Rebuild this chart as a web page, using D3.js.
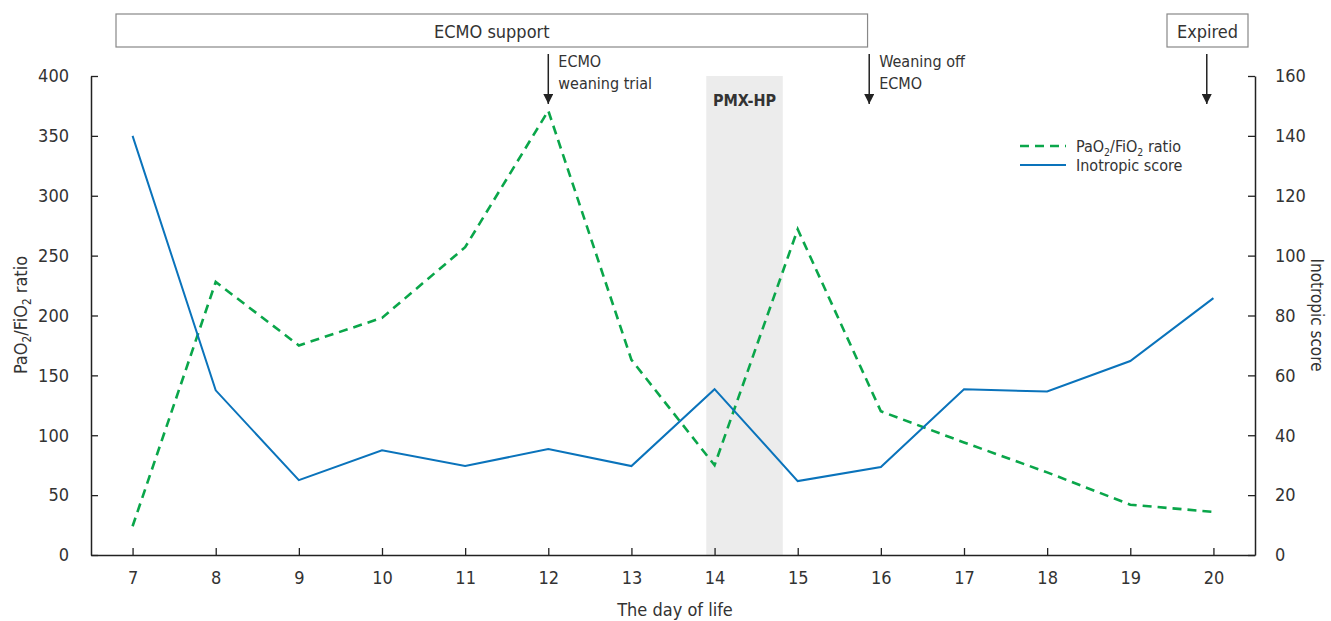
<!DOCTYPE html>
<html><head><meta charset="utf-8">
<script src="https://cdn.jsdelivr.net/npm/d3@7"></script>
<style>
body{margin:0;background:#fff;}
text{font-family:"Liberation Sans Narrow","DejaVu Sans Condensed","Open Sans",sans-serif;fill:#333;}
</style></head>
<body><svg id="c" width="1331" height="621"></svg>
<script>
const days = [7,8,9,10,11,12,13,14,15,16,17,18,19,20];
const pfRatio = [24,228,175,198,257,371,163,75,272,120,94,69,42,36];
const inotropic = [140,55,25,35,29.7,35.4,29.7,55.4,24.7,29.4,55.4,54.6,64.8,85.8];
const leftTicks = [0,50,100,150,200,250,300,350,400];
const rightTicks = [0,20,40,60,80,100,120,140,160];
const pmxBand = [13.9,14.82];
const ecmoSpan = [6.7,15.84];
const arrows = [{day:12, lines:["ECMO","weaning trial"]},{day:15.86, lines:["Weaning off","ECMO"]},{day:19.92, lines:[]}];

const svg = d3.select("#c");
const L=91, R=1255, T=76, B=555;
const x = d3.scaleLinear().domain([6.5,20.5]).range([L,R]);
const yL = d3.scaleLinear().domain([0,400]).range([B,T]);
const yR = d3.scaleLinear().domain([0,160]).range([B,T]);
const fs = 18;

// band
svg.append("rect").attr("x",x(pmxBand[0])).attr("y",T).attr("width",x(pmxBand[1])-x(pmxBand[0])).attr("height",B-T).attr("fill","#ececec");
svg.append("text").attr("x",(x(pmxBand[0])+x(pmxBand[1]))/2).attr("y",106).attr("text-anchor","middle").attr("font-size",16).attr("font-weight","bold").text("PMX-HP");

// axes
const axStyle = g=>{g.selectAll(".domain").attr("stroke","#222").attr("stroke-width",1.5);g.selectAll(".tick line").attr("stroke","#222").attr("stroke-width",1.3);g.selectAll(".tick text").attr("font-size",fs).style("font-family",'"Liberation Sans Narrow","DejaVu Sans Condensed",sans-serif').attr("fill","#333");};
svg.append("g").attr("transform",`translate(0,${B})`).call(d3.axisBottom(x).tickValues(days).tickSize(-7).tickSizeOuter(0).tickPadding(16).tickFormat(d3.format("d"))).call(axStyle);
svg.append("g").attr("transform",`translate(${L},0)`).call(d3.axisLeft(yL).tickValues(leftTicks).tickSize(-7).tickSizeOuter(0).tickPadding(22)).call(axStyle);
svg.append("g").attr("transform",`translate(${R},0)`).call(d3.axisRight(yR).tickValues(rightTicks).tickSize(-7).tickSizeOuter(0).tickPadding(20)).call(axStyle);

// lines
const lineL = d3.line().x((d,i)=>x(days[i])).y(d=>yL(d));
const lineR = d3.line().x((d,i)=>x(days[i])).y(d=>yR(d));
svg.append("path").datum(pfRatio).attr("d",lineL).attr("fill","none").attr("stroke","#0aa64a").attr("stroke-width",2.6).attr("stroke-dasharray","9,6");
svg.append("path").datum(inotropic).attr("d",lineR).attr("fill","none").attr("stroke","#0a73bb").attr("stroke-width",2);

// ECMO support box
svg.append("rect").attr("x",116).attr("y",14).attr("width",x(ecmoSpan[1])-116).attr("height",33).attr("fill","#fff").attr("stroke","#888").attr("stroke-width",1.2);
svg.append("text").attr("x",(116+x(ecmoSpan[1]))/2).attr("y",38).attr("text-anchor","middle").attr("font-size",fs).text("ECMO support");
// Expired box
svg.append("rect").attr("x",1167).attr("y",14).attr("width",81).attr("height",33).attr("fill","#fff").attr("stroke","#888").attr("stroke-width",1.2);
svg.append("text").attr("x",1207.5).attr("y",38).attr("text-anchor","middle").attr("font-size",fs).text("Expired");

// arrows
svg.append("defs").append("marker").attr("id","ah").attr("viewBox","0 0 10 10").attr("refX",10).attr("refY",5).attr("markerWidth",10).attr("markerHeight",10).attr("markerUnits","userSpaceOnUse").attr("orient","auto")
  .append("path").attr("d","M0,0L10,5L0,10z").attr("fill","#222");
arrows.forEach(a=>{
  const ax = x(a.day);
  svg.append("line").attr("x1",ax).attr("x2",ax).attr("y1",54).attr("y2",104).attr("stroke","#222").attr("stroke-width",1.5).attr("marker-end","url(#ah)");
  a.lines.forEach((t,i)=>svg.append("text").attr("x",ax+10).attr("y",67+i*22).attr("font-size",16).text(t));
});

// legend
function sub(sel, parts, size){
  parts.forEach(p=>{
    if(p.s) sel.append("tspan").attr("font-size",size*0.65).attr("dy",4).text(p.t);
    else sel.append("tspan").attr("dy",p.back?-4:0).text(p.t);
  });
}
svg.append("line").attr("x1",1020).attr("x2",1066).attr("y1",146).attr("y2",146).attr("stroke","#0aa64a").attr("stroke-width",2.6).attr("stroke-dasharray","9,6");
svg.append("line").attr("x1",1020).attr("x2",1066).attr("y1",165).attr("y2",165).attr("stroke","#0a73bb").attr("stroke-width",2);
const lt = svg.append("text").attr("x",1076).attr("y",152).attr("font-size",16);
sub(lt,[{t:"PaO"},{t:"2",s:1},{t:"/FiO",back:1},{t:"2",s:1},{t:" ratio",back:1}],16);
svg.append("text").attr("x",1076).attr("y",171).attr("font-size",16).text("Inotropic score");

// axis titles
const lt2 = svg.append("text").attr("transform","translate(27,315) rotate(-90)").attr("text-anchor","middle").attr("font-size",fs);
sub(lt2,[{t:"PaO"},{t:"2",s:1},{t:"/FiO",back:1},{t:"2",s:1},{t:" ratio",back:1}],fs);
svg.append("text").attr("transform","translate(1311,315) rotate(90)").attr("text-anchor","middle").attr("font-size",17).text("Inotropic score");
svg.append("text").attr("x",675).attr("y",616).attr("text-anchor","middle").attr("font-size",fs).text("The day of life");
</script></body></html>
